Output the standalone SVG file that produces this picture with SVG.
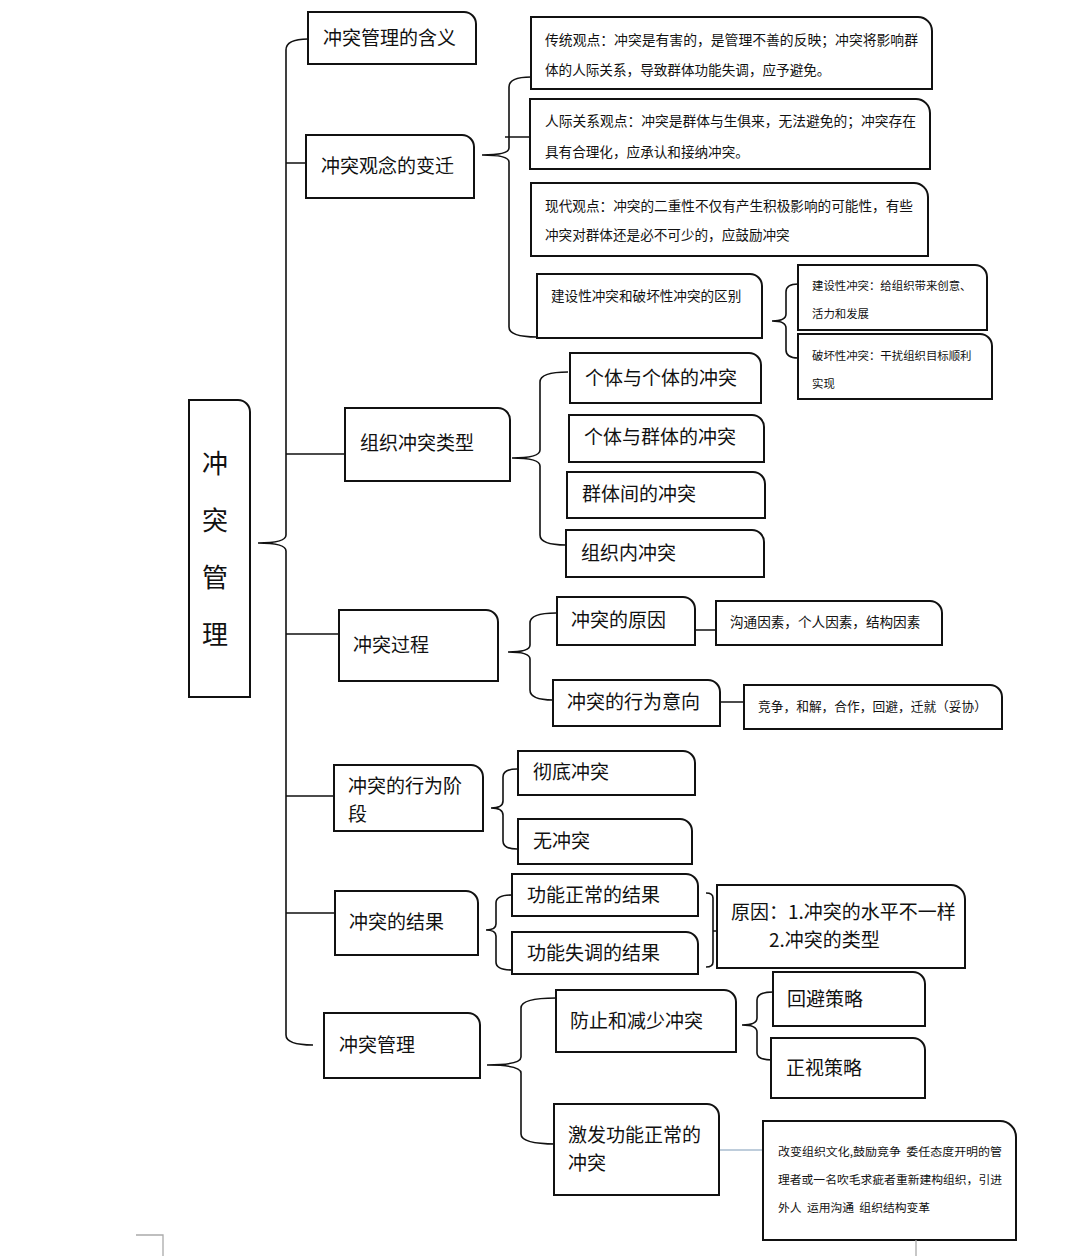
<svg xmlns="http://www.w3.org/2000/svg" width="1079" height="1256" viewBox="0 0 1079 1256">
<style>
.b{fill:#fff;stroke:#111;stroke-width:2}
.c{fill:none;stroke:#111;stroke-width:1.6}
.t{font-family:"Noto Sans CJK SC","Noto Sans",sans-serif;fill:#111;dominant-baseline:central;transform:translate(0px,-1.5px)}
.l{font-size:19px}
.s{font-size:13.6px}
.xs{font-size:11.4px}
.pm{fill:none;stroke:#aaa;stroke-width:1.3}
</style>
<rect width="1079" height="1256" fill="#fff"/>
<g id="connectors">
<path class="c" d="M308 39 Q286 39 286 50 V535 Q286 543 258 543 Q286 543 286 551 V1035 Q286 1045 313 1045"/>
<path class="c" d="M286 163 H306 M286 454 H345 M286 634 H339 M286 796 H334 M286 913 H335"/>
<path class="c" d="M531 77 Q509 77 509 87 V148 Q509 155 482 155 Q509 155 509 162 V327 Q509 337 537 337 M505 137 H530"/>
<path class="c" d="M798 284 Q786 284 786 292 V314 Q786 321 772 321 Q786 321 786 328 V350 Q786 358 798 358"/>
<path class="c" d="M568 372 Q540 372 540 382 V450 Q540 458 512 458 Q540 458 540 466 V535 Q540 545 566 545"/>
<path class="c" d="M556 613 Q530 613 530 623 V645 Q530 652 508 652 Q530 652 530 659 V690 Q530 700 553 700"/>
<path class="c" d="M695 630 H716 M720 702 H745"/>
<path class="c" d="M517 769 Q503 769 503 777 V801 Q503 808 491 808 Q503 808 503 815 V841 Q503 849 517 849"/>
<path class="c" d="M512 895 Q496 895 496 903 V924 Q496 930 486 930 Q496 930 496 936 V962 Q496 970 512 970"/>
<path class="c" d="M706 893 Q713 893 713 898 V962 Q713 967 706 967 M713 931 H717"/>
<path class="c" d="M556 998 Q521 998 521 1008 V1057 Q521 1065 487 1065 Q521 1065 521 1073 V1134 Q521 1144 556 1144"/>
<path class="c" d="M773 992 Q757 992 757 1000 V1018 Q757 1025 742 1025 Q757 1025 757 1032 V1053 Q757 1060 773 1060"/>
<path fill="none" stroke="#7f9cb8" stroke-width="1.2" d="M719 1150 H763"/>
</g>
<g id="root">
<path class="b" d="M189 400 H238 A12 12 0 0 1 250 412 V697 H189 Z"/>
<text class="t" font-size="26" x="215" y="463" text-anchor="middle">冲</text>
<text class="t" font-size="26" x="215" y="520" text-anchor="middle">突</text>
<text class="t" font-size="26" x="215" y="577" text-anchor="middle">管</text>
<text class="t" font-size="26" x="215" y="634" text-anchor="middle">理</text>
</g>
<g id="n1"><path class="b" d="M308 12 H464 A12 12 0 0 1 476 24 V64 H308 Z"/><text class="t l" x="323" y="38">冲突管理的含义</text></g>
<g id="n2"><path class="b" d="M306 135 H462 A12 12 0 0 1 474 147 V198 H306 Z"/><text class="t l" x="321" y="166">冲突观念的变迁</text></g>
<g id="a1"><path class="b" d="M531 17 H918 A14 14 0 0 1 932 31 V89 H531 Z"/>
<text class="t s" x="545" y="40" textLength="373" lengthAdjust="spacingAndGlyphs">传统观点：冲突是有害的，是管理不善的反映；冲突将影响群</text>
<text class="t s" x="545" y="70">体的人际关系，导致群体功能失调，应予避免。</text></g>
<g id="a2"><path class="b" d="M530 99 H916 A14 14 0 0 1 930 113 V169 H530 Z"/>
<text class="t s" x="545" y="121" textLength="371" lengthAdjust="spacingAndGlyphs">人际关系观点：冲突是群体与生俱来，无法避免的；冲突存在</text>
<text class="t s" x="545" y="152">具有合理化，应承认和接纳冲突。</text></g>
<g id="a3"><path class="b" d="M531 183 H914 A14 14 0 0 1 928 197 V256 H531 Z"/>
<text class="t s" x="545" y="206" textLength="368" lengthAdjust="spacingAndGlyphs">现代观点：冲突的二重性不仅有产生积极影响的可能性，有些</text>
<text class="t s" x="545" y="235">冲突对群体还是必不可少的，应鼓励冲突</text></g>
<g id="a4"><path class="b" d="M537 274 H750 A12 12 0 0 1 762 286 V338 H537 Z"/>
<text class="t s" x="551" y="296">建设性冲突和破坏性冲突的区别</text></g>
<g id="a4a"><path class="b" d="M798 265 H975 A12 12 0 0 1 987 277 V330 H798 Z"/>
<text class="t xs" x="812" y="286">建设性冲突：给组织带来创意、</text>
<text class="t xs" x="812" y="314">活力和发展</text></g>
<g id="a4b"><path class="b" d="M798 334 H980 A12 12 0 0 1 992 346 V399 H798 Z"/>
<text class="t xs" x="812" y="356">破坏性冲突：干扰组织目标顺利</text>
<text class="t xs" x="812" y="384">实现</text></g>
<g id="n3"><path class="b" d="M345 408 H498 A12 12 0 0 1 510 420 V481 H345 Z"/><text class="t l" x="360" y="443">组织冲突类型</text></g>
<g id="b1"><path class="b" d="M570 353 H749 A12 12 0 0 1 761 365 V403 H570 Z"/><text class="t l" x="585" y="378">个体与个体的冲突</text></g>
<g id="b2"><path class="b" d="M569 415 H752 A12 12 0 0 1 764 427 V462 H569 Z"/><text class="t l" x="584" y="437">个体与群体的冲突</text></g>
<g id="b3"><path class="b" d="M567 472 H753 A12 12 0 0 1 765 484 V518 H567 Z"/><text class="t l" x="582" y="494">群体间的冲突</text></g>
<g id="b4"><path class="b" d="M566 530 H752 A12 12 0 0 1 764 542 V577 H566 Z"/><text class="t l" x="581" y="553">组织内冲突</text></g>
<g id="n4"><path class="b" d="M339 610 H486 A12 12 0 0 1 498 622 V681 H339 Z"/><text class="t l" x="353" y="645">冲突过程</text></g>
<g id="c1"><path class="b" d="M557 597 H683 A12 12 0 0 1 695 609 V645 H557 Z"/><text class="t l" x="571" y="620">冲突的原因</text></g>
<g id="c1a"><path class="b" d="M716 601 H930 A12 12 0 0 1 942 613 V645 H716 Z"/><text class="t s" x="730" y="622">沟通因素，个人因素，结构因素</text></g>
<g id="c2"><path class="b" d="M553 680 H708 A12 12 0 0 1 720 692 V726 H553 Z"/><text class="t l" x="567" y="702">冲突的行为意向</text></g>
<g id="c2a"><path class="b" d="M744 685 H990 A12 12 0 0 1 1002 697 V729 H744 Z"/><text class="t" font-size="12.7" x="758" y="707" textLength="229" lengthAdjust="spacingAndGlyphs">竞争，和解，合作，回避，迁就（妥协）</text></g>
<g id="n5"><path class="b" d="M334 765 H471 A12 12 0 0 1 483 777 V831 H334 Z"/>
<text class="t l" x="348" y="786">冲突的行为阶</text><text class="t l" x="348" y="814">段</text></g>
<g id="d1"><path class="b" d="M518 751 H683 A12 12 0 0 1 695 763 V795 H518 Z"/><text class="t l" x="533" y="772">彻底冲突</text></g>
<g id="d2"><path class="b" d="M518 819 H680 A12 12 0 0 1 692 831 V864 H518 Z"/><text class="t l" x="533" y="841">无冲突</text></g>
<g id="n6"><path class="b" d="M335 891 H466 A12 12 0 0 1 478 903 V955 H335 Z"/><text class="t l" x="349" y="922">冲突的结果</text></g>
<g id="e1"><path class="b" d="M512 874 H686 A12 12 0 0 1 698 886 V916 H512 Z"/><text class="t l" x="527" y="895">功能正常的结果</text></g>
<g id="e2"><path class="b" d="M512 932 H686 A12 12 0 0 1 698 944 V974 H512 Z"/><text class="t l" x="527" y="953">功能失调的结果</text></g>
<g id="e3"><path class="b" d="M717 885 H951 A14 14 0 0 1 965 899 V968 H717 Z"/>
<text class="t l" x="731" y="912">原因：1.冲突的水平不一样</text>
<text class="t l" x="769" y="940">2.冲突的类型</text></g>
<g id="n7"><path class="b" d="M324 1013 H468 A12 12 0 0 1 480 1025 V1078 H324 Z"/><text class="t l" x="339" y="1045">冲突管理</text></g>
<g id="f1"><path class="b" d="M556 990 H724 A12 12 0 0 1 736 1002 V1052 H556 Z"/><text class="t l" x="570" y="1021">防止和减少冲突</text></g>
<g id="f2"><path class="b" d="M554 1104 H707 A12 12 0 0 1 719 1116 V1195 H554 Z"/>
<text class="t l" x="568" y="1135">激发功能正常的</text><text class="t l" x="568" y="1163">冲突</text></g>
<g id="f1a"><path class="b" d="M773 972 H913 A12 12 0 0 1 925 984 V1026 H773 Z"/><text class="t l" x="787" y="999">回避策略</text></g>
<g id="f1b"><path class="b" d="M771 1038 H913 A12 12 0 0 1 925 1050 V1098 H771 Z"/><text class="t l" x="786" y="1068">正视策略</text></g>
<g id="f2a"><path class="b" d="M763 1121 H1000 A16 16 0 0 1 1016 1137 V1240 H763 Z"/>
<text class="t" font-size="11.8" x="778" y="1152" xml:space="preserve" textLength="224" lengthAdjust="spacingAndGlyphs">改变组织文化,鼓励竞争  委任态度开明的管</text>
<text class="t" font-size="11.8" x="778" y="1180" textLength="224" lengthAdjust="spacingAndGlyphs">理者或一名吹毛求疵者重新建构组织，引进</text>
<text class="t" font-size="11.8" x="778" y="1208" xml:space="preserve">外人  运用沟通  组织结构变革</text></g>
<path class="pm" d="M136 1235 H163 V1256 M916 1240 V1256"/>
</svg>
